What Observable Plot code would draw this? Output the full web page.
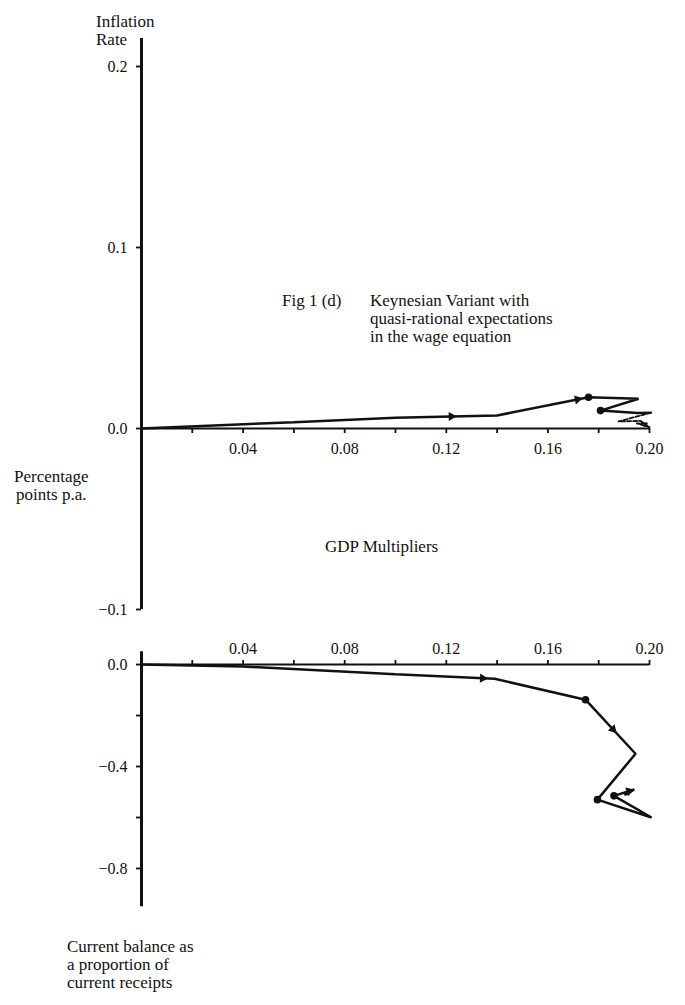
<!DOCTYPE html>
<html>
<head>
<meta charset="utf-8">
<script src="https://cdn.jsdelivr.net/npm/d3@7"></script>
<script src="https://cdn.jsdelivr.net/npm/@observablehq/plot@0.6"></script>
<style>
  body { margin: 0; background: #fff; }
  #fig { position: relative; width: 685px; height: 1005px; font-family: "Liberation Serif", "Times New Roman", serif; color: #111; }
  #fig .lbl { position: absolute; font-size: 17px; line-height: 18px; white-space: nowrap; }
  #top, #bottom { position: absolute; left: 0; }
  #top { top: 0; }
  #bottom { top: 640px; }
</style>
</head>
<body>
<div id="fig">
  <div id="top"></div>
  <div id="bottom"></div>
  <div class="lbl" style="left:96px;top:13px;">Inflation<br>Rate</div>
  <div class="lbl" style="left:282px;top:292px;">Fig 1 (d)</div>
  <div class="lbl" style="left:370px;top:292px;">Keynesian Variant with<br>quasi-rational expectations<br>in the wage equation</div>
  <div class="lbl" style="left:14px;top:468px;text-align:center;">Percentage<br>points p.a.</div>
  <div class="lbl" style="left:325px;top:538px;">GDP Multipliers</div>
  <div class="lbl" style="left:67px;top:938px;">Current balance as<br>a proportion of<br>current receipts</div>
</div>
<script>
// GDP multiplier ticks (shared by both panels)
const xTicks = [0.02, 0.04, 0.06, 0.08, 0.10, 0.12, 0.14, 0.16, 0.18, 0.20];
const xLabelled = [0.04, 0.08, 0.12, 0.16, 0.20];

// Upper panel: inflation rate against GDP multiplier
const inflTicks = [-0.1, 0.0, 0.1, 0.2];
const inflGdp  = [0.000, 0.060, 0.100, 0.140, 0.176, 0.1957, 0.1807, 0.1953, 0.2005];
const inflRate = [0.000, 0.0035, 0.0060, 0.0072, 0.0173, 0.0164, 0.0099, 0.0085, 0.0087];
// closing spiral, printed faintly
const inflTailGdp  = [0.2005, 0.1878, 0.1965, 0.2000, 0.1950, 0.1990, 0.1975];
const inflTailRate = [0.0087, 0.0039, 0.0042, 0.0007, 0.0028, 0.0030, 0.0005];
const inflDotGdp  = [0.176, 0.1807];
const inflDotRate = [0.0173, 0.0099];
// arrowheads: segment index along the path and fraction along it
const inflArrowSeg = [2, 3];
const inflArrowAt  = [0.55, 0.88];

// Lower panel: current balance as a proportion of current receipts
const balTicks = [0.0, -0.2, -0.4, -0.6, -0.8];
const balLabelled = [0.0, -0.4, -0.8];
const balGdp = [0.000, 0.040, 0.100, 0.139, 0.1748, 0.1945, 0.1795, 0.2008, 0.1860, 0.1940, 0.1905];
const balVal = [0.000, -0.008, -0.038, -0.056, -0.138, -0.350, -0.530, -0.600, -0.515, -0.490, -0.510];
const balDotGdp = [0.1748, 0.1795, 0.1860];
const balDotVal = [-0.138, -0.530, -0.515];
const balArrowSeg = [2, 4, 8];
const balArrowAt  = [0.88, 0.55, 0.75];

const W = 685;
const xDomain = [0, 0.2], xRange = [141, 649];
const font = {fontFamily: "Liberation Serif, Times New Roman, serif", fontSize: "16px", color: "#111", background: "transparent", overflow: "visible"};
const ink = "#111";

function pts(xs, ys) { return xs.map((x, i) => ({x, y: ys[i]})); }

// arrowhead positions along a path, rotated to the direction of travel
function arrows(xs, ys, segs, ats, yDomain, yRange) {
  const kx = (xRange[1] - xRange[0]) / (xDomain[1] - xDomain[0]);
  const ky = Math.abs(yRange[1] - yRange[0]) / Math.abs(yDomain[1] - yDomain[0]);
  return segs.map((s, j) => {
    const t = ats[j];
    const x = xs[s] + t * (xs[s + 1] - xs[s]);
    const y = ys[s] + t * (ys[s + 1] - ys[s]);
    const dx = (xs[s + 1] - xs[s]) * kx, dy = (ys[s + 1] - ys[s]) * ky;
    return {x, y, r: Math.atan2(dx, dy) * 180 / Math.PI};
  });
}

// ---- upper panel ----
const topYDomain = [-0.1, 0.2], topYRange = [609, 66];
const topChart = Plot.plot({
  width: W, height: 640,
  marginLeft: xRange[0], marginRight: W - xRange[1], marginTop: 38, marginBottom: 640 - 428,
  x: {domain: xDomain, range: xRange},
  y: {domain: topYDomain, range: topYRange},
  style: font,
  marks: [
    Plot.ruleY([0], {stroke: ink, strokeWidth: 2.2}),
    Plot.ruleX([0], {y1: -0.1, y2: 0.2155, stroke: ink, strokeWidth: 3}),
    Plot.axisX(xTicks, {anchor: "bottom", tickSize: 5, tickPadding: 9, strokeWidth: 1.8, label: null,
      tickFormat: d => xLabelled.some(v => Math.abs(v - d) < 1e-9) ? d3.format(".2f")(d) : ""}),
    Plot.axisY(inflTicks, {anchor: "left", tickSize: 5, tickPadding: 9, strokeWidth: 1.8, label: null,
      tickFormat: d3.format(".1f")}),
    Plot.line(pts(inflGdp, inflRate), {x: "x", y: "y", stroke: ink, strokeWidth: 2.5, strokeLinejoin: "miter"}),
    Plot.line(pts(inflTailGdp, inflTailRate), {x: "x", y: "y", stroke: ink, strokeWidth: 1.8, strokeDasharray: "4,2"}),
    Plot.dot(pts(inflDotGdp, inflDotRate), {x: "x", y: "y", r: 3.8, fill: ink}),
    Plot.dot(arrows(inflGdp, inflRate, inflArrowSeg, inflArrowAt, topYDomain, topYRange),
      {x: "x", y: "y", rotate: "r", symbol: "triangle2", r: 4.4, fill: ink})
  ]
});
document.getElementById("top").append(topChart);

// ---- lower panel ----
const botYDomain = [-0.8, 0], botYRange = [228, 24];
const botChart = Plot.plot({
  width: W, height: 365,
  marginLeft: xRange[0], marginRight: W - xRange[1], marginTop: 24, marginBottom: 60,
  x: {domain: xDomain, range: xRange},
  y: {domain: botYDomain, range: botYRange},
  style: font,
  marks: [
    Plot.ruleY([0], {stroke: ink, strokeWidth: 2.2}),
    Plot.ruleX([0], {y1: -0.95, y2: 0.05, stroke: ink, strokeWidth: 3}),
    Plot.axisX(xTicks, {anchor: "top", tickSize: 5, tickPadding: 6, strokeWidth: 1.8, label: null,
      tickFormat: d => xLabelled.some(v => Math.abs(v - d) < 1e-9) ? d3.format(".2f")(d) : ""}),
    Plot.axisY(balTicks, {anchor: "left", tickSize: 5, tickPadding: 9, strokeWidth: 1.8, label: null,
      tickFormat: d => balLabelled.some(v => Math.abs(v - d) < 1e-9) ? d3.format(".1f")(d) : ""}),
    Plot.line(pts(balGdp, balVal), {x: "x", y: "y", stroke: ink, strokeWidth: 2.5, strokeLinejoin: "miter"}),
    Plot.dot(pts(balDotGdp, balDotVal), {x: "x", y: "y", r: 3.8, fill: ink}),
    Plot.dot(arrows(balGdp, balVal, balArrowSeg, balArrowAt, botYDomain, botYRange),
      {x: "x", y: "y", rotate: "r", symbol: "triangle2", r: 4.4, fill: ink})
  ]
});
document.getElementById("bottom").append(botChart);
</script>
</body>
</html>
